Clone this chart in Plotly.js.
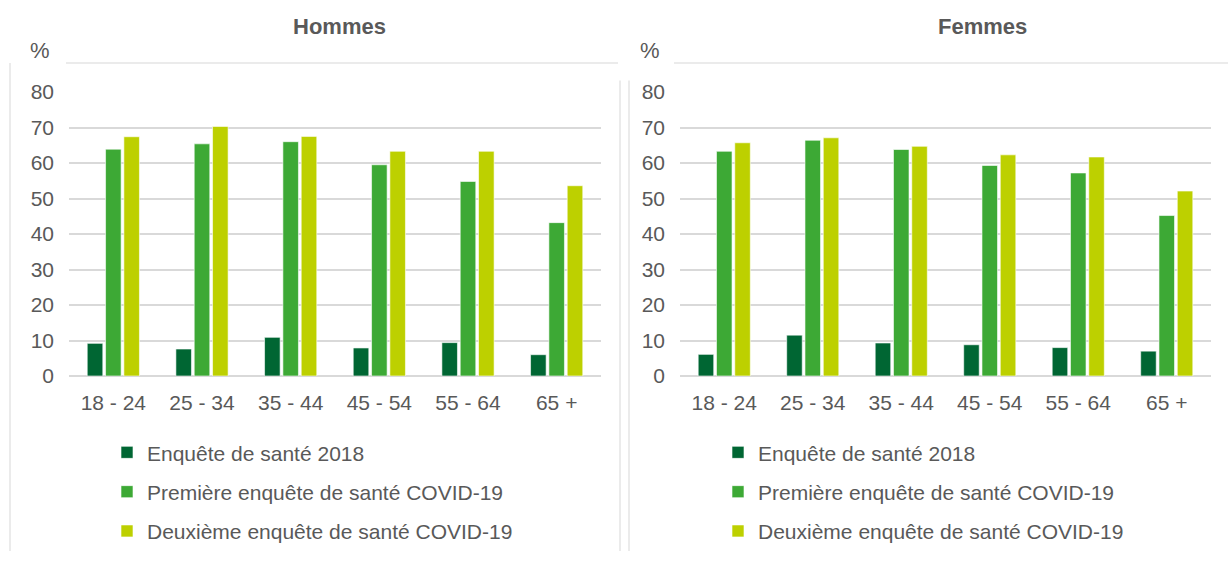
<!DOCTYPE html>
<html>
<head>
<meta charset="utf-8">
<script src="https://cdn.plot.ly/plotly-3.0.1.min.js"></script>
<style>html,body{margin:0;padding:0;background:#fff;}#chart{width:1228px;height:563px;}</style>
</head>
<body>
<div id="chart"></div>
<script>
// ---- data ----
const categories = ['18 - 24', '25 - 34', '35 - 44', '45 - 54', '55 - 64', '65 +'];
const seriesNames = ['Enquête de santé 2018', 'Première enquête de santé COVID-19', 'Deuxième enquête de santé COVID-19'];
const hommes2018 = [9.2, 7.6, 10.9, 7.9, 9.4, 6.0];
const hommesCovid1 = [63.9, 65.4, 66.0, 59.5, 54.8, 43.2];
const hommesCovid2 = [67.4, 70.3, 67.5, 63.3, 63.3, 53.6];
const femmes2018 = [6.1, 11.5, 9.3, 8.8, 8.0, 7.0];
const femmesCovid1 = [63.3, 66.4, 63.8, 59.3, 57.2, 45.2];
const femmesCovid2 = [65.7, 67.1, 64.7, 62.3, 61.7, 52.1];
const yTicks = [0, 10, 20, 30, 40, 50, 60, 70, 80];
const panelTitles = ['Hommes', 'Femmes'];
const unitLabel = '%';

// ---- styling ----
const colors = ['#006633', '#3DA935', '#BDD000'];
const textColor = '#595959';
const gridColor = '#d9d9d9';
const frameColor = '#e4e4e4';
const fontFam = '"Liberation Sans", Arial, sans-serif';
const W = 1228, H = 563;
const mL = 69, mR = 17, mT = 91.7, mB = 179.7;
const pw = W - mL - mR, ph = H - mT - mB;
const px = x => (x - mL) / pw;
const py = y => (H - mB - y) / ph;

function mk(vals, i, xa, ya, leg) {
  return {
    type: 'bar', x: categories, y: vals, name: seriesNames[i],
    xaxis: xa, yaxis: ya, legend: leg, legendgroup: leg + i,
    marker: {color: colors[i], line: {color: '#ffffff', width: 0.6}},
    hoverinfo: 'x+y+name'
  };
}
const traces = [
  mk(hommes2018, 0, 'x', 'y', 'legend'),
  mk(hommesCovid1, 1, 'x', 'y', 'legend'),
  mk(hommesCovid2, 2, 'x', 'y', 'legend'),
  mk(femmes2018, 0, 'x2', 'y2', 'legend2'),
  mk(femmesCovid1, 1, 'x2', 'y2', 'legend2'),
  mk(femmesCovid2, 2, 'x2', 'y2', 'legend2')
];

const xax = dom => ({
  domain: dom, type: 'category', showgrid: false, zeroline: false, showline: false,
  ticks: '', tickfont: {size: 21, color: textColor, family: fontFam}, ticklabelstandoff: 12,
  fixedrange: true
});
const yax = anchor => ({
  anchor: anchor, range: [0, 80], tickvals: yTicks, ticktext: yTicks.map(String),
  showgrid: true, gridcolor: gridColor, gridwidth: 1.5,
  zeroline: true, zerolinecolor: gridColor, zerolinewidth: 1.5,
  showline: false, ticks: '', ticklabelstandoff: 14,
  tickfont: {size: 21, color: textColor, family: fontFam}, fixedrange: true
});

const legendCommon = {
  orientation: 'v', xanchor: 'left', yanchor: 'top', y: py(441),
  font: {size: 21, color: textColor, family: fontFam},
  bgcolor: 'rgba(0,0,0,0)', traceorder: 'grouped', tracegroupgap: 9,
  itemclick: false, itemdoubleclick: false
};

const line = (x0, y0, x1, y1) => ({
  type: 'line', xref: 'paper', yref: 'paper',
  x0: px(x0), x1: px(x1), y0: py(y0), y1: py(y1),
  line: {color: frameColor, width: 1.5}
});

const layout = {
  width: W, height: H,
  margin: {l: mL, r: mR, t: mT, b: mB},
  paper_bgcolor: '#ffffff', plot_bgcolor: '#ffffff',
  font: {family: fontFam, color: textColor},
  barmode: 'group', bargap: 0.38, bargroupgap: 0.15,
  showlegend: true,
  xaxis: xax([0, px(601)]),
  yaxis: yax('x'),
  xaxis2: xax([px(680), 1]),
  yaxis2: yax('x2'),
  legend: Object.assign({x: px(107)}, legendCommon),
  legend2: Object.assign({x: px(718)}, legendCommon),
  annotations: [
    {text: '<b>' + panelTitles[0] + '</b>', xref: 'paper', yref: 'paper', x: px(339), y: py(24),
     xanchor: 'center', yanchor: 'middle', showarrow: false, font: {size: 22, color: textColor, family: fontFam}},
    {text: '<b>' + panelTitles[1] + '</b>', xref: 'paper', yref: 'paper', x: px(982), y: py(24),
     xanchor: 'center', yanchor: 'middle', showarrow: false, font: {size: 22, color: textColor, family: fontFam}},
    {text: unitLabel, xref: 'paper', yref: 'paper', x: px(40), y: py(49),
     xanchor: 'center', yanchor: 'middle', showarrow: false, font: {size: 22, color: textColor, family: fontFam}},
    {text: unitLabel, xref: 'paper', yref: 'paper', x: px(650), y: py(49),
     xanchor: 'center', yanchor: 'middle', showarrow: false, font: {size: 22, color: textColor, family: fontFam}}
  ],
  shapes: [
    line(66, 62, 618, 62),
    line(10, 62, 10, 563),
    line(620, 80, 620, 563),
    line(629, 80, 629, 563),
    line(674, 62, 1228, 62)
  ]
};

Plotly.newPlot('chart', traces, layout, {displayModeBar: false, staticPlot: false});
</script>
</body>
</html>
